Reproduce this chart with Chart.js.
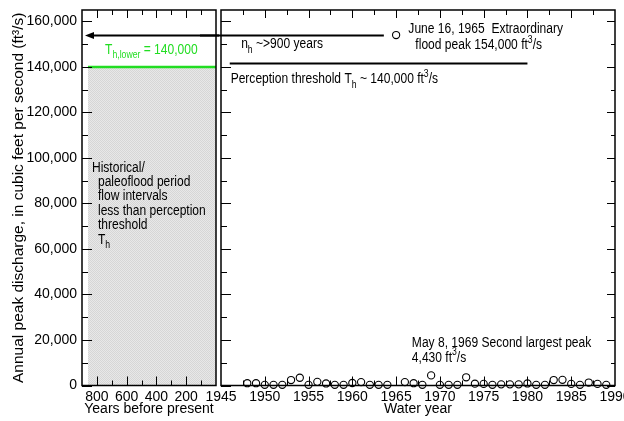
<!DOCTYPE html>
<html>
<head>
<meta charset="utf-8">
<script src="https://cdn.jsdelivr.net/npm/chart.js@4.4.1/dist/chart.umd.min.js"></script>
<style>
html, body { margin: 0; padding: 0; background: #fff; overflow: hidden; }
#wrap { position: relative; width: 624px; height: 421px; }
#right { position: absolute; left: 200px; top: 0; }
#left { position: absolute; left: 0; top: 0; }
</style>
</head>
<body>
<div id="wrap">
  <canvas id="right" width="424" height="421"></canvas>
  <canvas id="left" width="219" height="421"></canvas>
</div>
<script>
'use strict';

// annual peaks, water years 1948-1989 (ft3/s)
const waterYears = [1948, 1949, 1950, 1951, 1952, 1953, 1954, 1955, 1956, 1957,
    1958, 1959, 1960, 1961, 1962, 1963, 1964, 1965, 1966, 1967,
    1968, 1969, 1970, 1971, 1972, 1973, 1974, 1975, 1976, 1977,
    1978, 1979, 1980, 1981, 1982, 1983, 1984, 1985, 1986, 1987,
    1988, 1989];
const peakFlows = [1000, 1000, 300, 300, 300, 2400, 3400, 300, 1600, 900,
    300, 300, 1100, 1500, 300, 300, 300, 154000, 1500, 1000,
    300, 4430, 300, 300, 300, 3600, 800, 700, 300, 500,
    500, 500, 900, 300, 300, 2400, 2500, 700, 300, 1300,
    700, 300];

// historical period (years before present)
const thresholdYearsBP = [860, 0];
const thresholdFlow = 140000;
const perceptionFlow = 141500;
const historicalYears = 900;

// tick labels
const flowTicks = [0, 20000, 40000, 60000, 80000, 100000, 120000, 140000, 160000];
const flowMinor = [10000, 30000, 50000, 70000, 90000, 110000, 130000, 150000];
const bpTicks = [800, 600, 400, 200];
const bpMinor = [700, 500, 300, 100];
const yearTicks = [1945, 1950, 1955, 1960, 1965, 1970, 1975, 1980, 1985, 1990];
const yearMinor = [1947.5, 1952.5, 1957.5, 1962.5, 1967.5, 1972.5, 1977.5, 1982.5, 1987.5];

const FONT = "'Liberation Sans Narrow', 'Arial Narrow', 'Liberation Sans', sans-serif";
const SIZE = 14;
const SQUEEZE = 0.86;  // the original lettering is condensed

function richText(ctx, x, y, parts, color) {
    let cx = 0;
    ctx.save();
    ctx.translate(x, y);
    ctx.scale(SQUEEZE, 1);
    ctx.fillStyle = color || '#000';
    ctx.textBaseline = 'middle';
    ctx.textAlign = 'left';
    parts.forEach(function (p) {
        let kind = p[1] || 'n';
        let s = kind === 'n' ? SIZE : SIZE * 0.72;
        let dy = kind === 'sub' ? SIZE * 0.38 : (kind === 'sup' ? -SIZE * 0.4 : 0);
        ctx.font = s + 'px ' + FONT;
        ctx.fillText(p[0], cx, dy);
        cx += ctx.measureText(p[0]).width;
    });
    ctx.restore();
}

// inward ticks + frame
function framePlugin(rightTicks) {
    return {
        id: 'frame',
        afterDatasetsDraw(chart) {
            const {ctx, chartArea: a, scales} = chart;
            const x = scales.x, y = scales.y;
            ctx.save();
            ctx.strokeStyle = '#000';
            ctx.lineWidth = 1;
            ctx.beginPath();
            chart.$xMajor.forEach(function (v) {
                let px = Math.round(x.getPixelForValue(v)) + 0.5;
                if (px < a.left + 1 || px > a.right - 1) return;
                ctx.moveTo(px, a.top); ctx.lineTo(px, a.top + 8);
                ctx.moveTo(px, a.bottom); ctx.lineTo(px, a.bottom - 9);
            });
            chart.$xMinor.forEach(function (v) {
                let px = Math.round(x.getPixelForValue(v)) + 0.5;
                ctx.moveTo(px, a.top); ctx.lineTo(px, a.top + 5);
                ctx.moveTo(px, a.bottom); ctx.lineTo(px, a.bottom - 5);
            });
            flowTicks.forEach(function (v) {
                let py = Math.round(y.getPixelForValue(v)) + 0.5;
                ctx.moveTo(a.left, py); ctx.lineTo(a.left + 10, py);
                if (rightTicks) { ctx.moveTo(a.right, py); ctx.lineTo(a.right - 8, py); }
            });
            flowMinor.forEach(function (v) {
                let py = Math.round(y.getPixelForValue(v)) + 0.5;
                ctx.moveTo(a.left, py); ctx.lineTo(a.left + 6, py);
                if (rightTicks) { ctx.moveTo(a.right, py); ctx.lineTo(a.right - 4, py); }
            });
            ctx.stroke();
            ctx.lineWidth = 1.5;
            ctx.strokeRect(a.left, a.top, a.right - a.left, a.bottom - a.top);
            ctx.restore();
        }
    };
}

function dotPattern() {
    let c = document.createElement('canvas');
    c.width = 2; c.height = 2;
    let g = c.getContext('2d');
    g.fillStyle = '#e8e8e8';
    g.fillRect(0, 0, 2, 2);
    g.fillStyle = '#d6d6d6';
    g.fillRect(0, 0, 1, 1);
    g.fillRect(1, 1, 1, 1);
    return g.createPattern(c, 'repeat');
}

const tickFont = {family: FONT, size: SIZE};

function noPadX(s) { s.height = 35.5; s.paddingLeft = 0; s.paddingRight = 0; }
function noPadY(s) { s.width = 82; s.paddingTop = 0; s.paddingBottom = 0; }

// LEFT PANEL: historical period
const leftNotes = {
    id: 'leftNotes',
    afterDraw(chart) {
        const {ctx, scales: {x, y}} = chart;
        ctx.save();
        // arrow to the start of the historical period
        let ay = Math.round(y.getPixelForValue(154000)) + 0.5;
        let ax = x.getPixelForValue(880);
        ctx.strokeStyle = '#000';
        ctx.lineWidth = 2;
        ctx.beginPath();
        ctx.moveTo(ax + 6, ay);
        ctx.lineTo(chart.width, ay);
        ctx.stroke();
        ctx.fillStyle = '#000';
        ctx.beginPath();
        ctx.moveTo(ax, ay);
        ctx.lineTo(ax + 9, ay - 3.5);
        ctx.lineTo(ax + 9, ay + 3.5);
        ctx.closePath();
        ctx.fill();
        ctx.restore();

        richText(ctx, x.getPixelForValue(745), y.getPixelForValue(147500),
            [['T'], ['h,lower', 'sub'], [' = 140,000']], '#22dd22');

        let tx = x.getPixelForValue(833), ty = y.getPixelForValue(95700);
        let lines = [
            [0, [['Historical/']]],
            [6, [['paleoflood period']]],
            [6, [['flow intervals']]],
            [6, [['less than perception']]],
            [6, [['threshold']]],
            [6, [['T'], ['h', 'sub']]]
        ];
        lines.forEach(function (l, i) {
            richText(ctx, tx + l[0], ty + i * 14.4, l[1]);
        });
    }
};

new Chart(document.getElementById('left'), {
    type: 'line',
    data: {
        datasets: [{
            data: thresholdYearsBP.map(function (v) { return {x: v, y: thresholdFlow}; }),
            borderColor: '#22dd22',
            borderWidth: 2.5,
            backgroundColor: dotPattern(),
            fill: 'origin',
            pointRadius: 0
        }]
    },
    options: {
        responsive: false,
        animation: false,
        devicePixelRatio: 1,
        layout: {padding: {top: 10, left: 0, right: 3, bottom: 0}, autoPadding: false},
        plugins: {legend: {display: false}, tooltip: {enabled: false}},
        scales: {
            x: {
                type: 'linear', min: 0, max: historicalYears, reverse: true,
                grid: {display: false, drawTicks: false}, border: {display: false},
                ticks: {color: '#000', font: tickFont, padding: 3, autoSkip: false, maxRotation: 0,
                    callback: function (v) { return String(v); }},
                afterBuildTicks: function (s) { s.ticks = bpTicks.map(function (v) { return {value: v}; }); },
                afterFit: noPadX,
                title: {display: true, text: 'Years before present', color: '#000', font: tickFont,
                    padding: {top: 0, bottom: 3}}
            },
            y: {
                type: 'linear', min: 0, max: 165000,
                grid: {display: false, drawTicks: false}, border: {display: false},
                ticks: {color: '#000', font: tickFont, padding: 5,
                    callback: function (v) { return v.toLocaleString('en-US'); }},
                afterBuildTicks: function (s) { s.ticks = flowTicks.map(function (v) { return {value: v}; }); },
                afterFit: noPadY,
                title: {display: true, text: 'Annual peak discharge, in cubic feet per second (ft\u00b3/s)',
                    color: '#000', font: {family: FONT, size: 15.5}, padding: {top: 9, bottom: 0}}
            }
        }
    },
    plugins: [{id: 'ticksL', beforeDraw(c) { c.$xMajor = bpTicks; c.$xMinor = bpMinor; }},
        framePlugin(false), leftNotes]
});

// RIGHT PANEL: systematic record
const rightNotes = {
    id: 'rightNotes',
    afterDraw(chart) {
        const {ctx, scales: {x, y}} = chart;
        ctx.save();
        let ay = Math.round(y.getPixelForValue(154000)) + 0.5;
        ctx.strokeStyle = '#000';
        ctx.lineWidth = 2;
        ctx.beginPath();
        ctx.moveTo(0, ay);
        ctx.lineTo(x.getPixelForValue(1963.6), ay);
        ctx.stroke();

        let py = Math.round(y.getPixelForValue(perceptionFlow)) + 0.5;
        ctx.beginPath();
        ctx.moveTo(x.getPixelForValue(1946), py);
        ctx.lineTo(x.getPixelForValue(1980), py);
        ctx.stroke();
        ctx.restore();

        richText(ctx, x.getPixelForValue(1947.3), y.getPixelForValue(149800),
            [['n'], ['h', 'sub'], [' ~>900 years']]);
        richText(ctx, x.getPixelForValue(1946.1), y.getPixelForValue(134500),
            [['Perception threshold T'], ['h', 'sub'], [' ~ 140,000 ft'], ['3', 'sup'], ['/s']]);
        richText(ctx, x.getPixelForValue(1966.4), y.getPixelForValue(156500),
            [['June 16, 1965  Extraordinary']]);
        richText(ctx, x.getPixelForValue(1967.2), y.getPixelForValue(149400),
            [['flood peak 154,000 ft'], ['3', 'sup'], ['/s']]);
        richText(ctx, x.getPixelForValue(1966.8), y.getPixelForValue(18700),
            [['May 8, 1969 Second largest peak']]);
        richText(ctx, x.getPixelForValue(1966.8), y.getPixelForValue(12100),
            [['4,430 ft'], ['3', 'sup'], ['/s']]);
    }
};

new Chart(document.getElementById('right'), {
    type: 'scatter',
    data: {
        datasets: [{
            data: waterYears.map(function (yr, i) { return {x: yr, y: peakFlows[i]}; }),
            pointStyle: 'circle',
            pointRadius: 3.6,
            borderColor: '#000',
            borderWidth: 1.1,
            backgroundColor: 'rgba(0,0,0,0)',
            clip: false
        }]
    },
    options: {
        responsive: false,
        animation: false,
        devicePixelRatio: 1,
        layout: {padding: {top: 10, left: 21, right: 9, bottom: 0}, autoPadding: false},
        plugins: {legend: {display: false}, tooltip: {enabled: false}},
        scales: {
            x: {
                type: 'linear', min: 1945, max: 1990,
                grid: {display: false, drawTicks: false}, border: {display: false},
                ticks: {color: '#000', font: tickFont, padding: 3, autoSkip: false, maxRotation: 0,
                    callback: function (v) { return String(v); }},
                afterBuildTicks: function (s) { s.ticks = yearTicks.map(function (v) { return {value: v}; }); },
                afterFit: noPadX,
                title: {display: true, text: 'Water year', color: '#000', font: tickFont,
                    padding: {top: 0, bottom: 3}}
            },
            y: {type: 'linear', min: 0, max: 165000, display: false}
        }
    },
    plugins: [{id: 'ticksR', beforeDraw(c) { c.$xMajor = yearTicks; c.$xMinor = yearMinor; }},
        framePlugin(true), rightNotes]
});
</script>
</body>
</html>
